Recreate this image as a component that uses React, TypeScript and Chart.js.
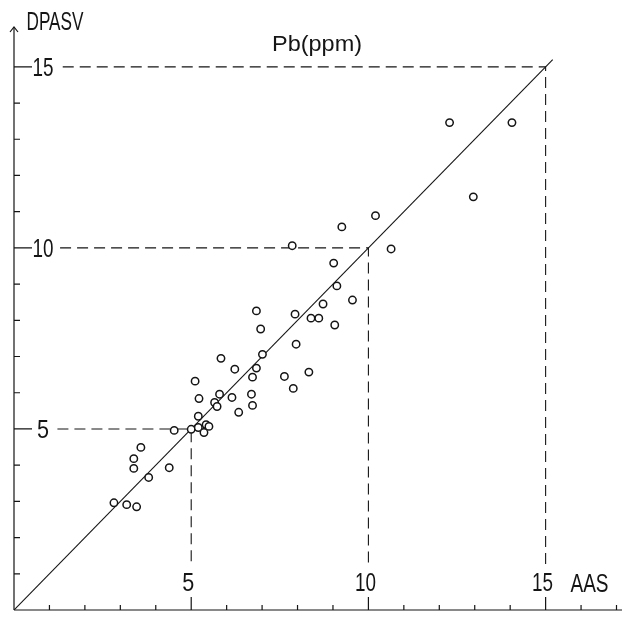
import React, { useEffect, useRef } from "react";
import { Chart, registerables } from "chart.js";

Chart.register(...registerables);

// AAS (x) vs DPASV (y), Pb in ppm
const aasValues = [
  2.82, 3.18, 3.46, 3.38, 3.38, 3.58, 3.8, 4.38, 4.52, 5.0,
  5.2, 5.42, 5.5, 5.36, 5.2, 5.22, 5.11, 5.66, 5.73, 5.8,
  6.15, 6.34, 6.7, 6.73, 5.84, 6.23, 6.73, 6.84, 7.01, 6.84,
  6.96, 7.63, 7.88, 8.32, 7.96, 7.93, 8.38, 8.6, 8.72, 9.11,
  9.05, 9.55, 9.02, 7.85, 9.25, 10.2, 10.64, 12.96, 12.29, 14.05,
];
const dpasvValues = [
  2.96, 2.91, 2.85, 3.91, 4.18, 4.49, 3.66, 3.93, 4.96, 4.99,
  5.04, 5.12, 5.07, 4.9, 5.35, 5.84, 6.32, 5.73, 5.62, 5.96,
  5.87, 5.46, 5.96, 5.65, 6.95, 6.65, 6.43, 6.68, 7.06, 8.26,
  7.76, 6.45, 6.12, 6.57, 7.34, 8.17, 8.06, 8.06, 8.45, 8.95,
  7.87, 8.56, 9.58, 10.06, 10.58, 10.89, 9.97, 11.41, 13.46, 13.46,
];
const guideLevels = [5, 10, 15];
const guideLabels = ["5", "10", "15"];
const xTickValues = [1, 2, 3, 4, 5, 6, 7, 8, 9, 10, 11, 12, 13, 14, 15, 16, 17];
const yTickValues = [1, 2, 3, 4, 5, 6, 7, 8, 9, 10, 11, 12, 13, 14, 15];
const identityLine = [0, 15.2];
const xAxisTitle = "AAS";
const yAxisTitle = "DPASV";
const chartTitle = "Pb(ppm)";

const INK = "#151515";
const FONT = '"Liberation Sans", Arial, sans-serif';
const GUIDE_GAP = 1.25;

function drawText(
  ctx: CanvasRenderingContext2D,
  text: string,
  cx: number,
  baseline: number,
  size: number,
  width: number
) {
  ctx.save();
  ctx.font = `${size}px ${FONT}`;
  const w = ctx.measureText(text).width;
  ctx.translate(cx, baseline);
  ctx.scale(width / w, 1);
  ctx.textAlign = "center";
  ctx.textBaseline = "alphabetic";
  ctx.fillStyle = INK;
  ctx.fillText(text, 0, 0);
  ctx.restore();
}

const axesPlugin = {
  id: "handDrawnAxes",
  afterDatasetsDraw(chart: any) {
    const { ctx, chartArea, scales } = chart;
    const xs = scales.x;
    const ys = scales.y;
    const x0 = xs.getPixelForValue(0);
    const y0 = ys.getPixelForValue(0);
    ctx.save();
    ctx.strokeStyle = INK;
    ctx.lineWidth = 1.2;
    ctx.setLineDash([]);
    // axes
    ctx.beginPath();
    ctx.moveTo(x0, y0);
    ctx.lineTo(chart.width, y0);
    ctx.moveTo(x0, y0);
    ctx.lineTo(x0, chartArea.top);
    ctx.stroke();
    // arrow head
    ctx.beginPath();
    ctx.moveTo(x0 - 4, chartArea.top + 5);
    ctx.lineTo(x0, chartArea.top);
    ctx.lineTo(x0 + 4, chartArea.top + 5);
    ctx.stroke();
    // minor ticks
    ctx.beginPath();
    xTickValues.forEach((v) => {
      const px = xs.getPixelForValue(v);
      ctx.moveTo(px, y0);
      ctx.lineTo(px, y0 - 5);
    });
    yTickValues.forEach((v) => {
      const py = ys.getPixelForValue(v);
      ctx.moveTo(x0, py);
      ctx.lineTo(x0 + 6, py);
    });
    // label ticks for the guide levels
    guideLevels.forEach((L) => {
      const py = ys.getPixelForValue(L);
      ctx.moveTo(x0, py);
      ctx.lineTo(x0 + 18, py);
      const px = xs.getPixelForValue(L);
      ctx.moveTo(px, y0);
      ctx.lineTo(px, y0 - 13);
    });
    ctx.stroke();
    ctx.restore();

    // labels
    guideLevels.forEach((L, i) => {
      const t = guideLabels[i];
      const w = t.length === 1 ? 12 : 21;
      drawText(ctx, t, x0 + 29, ys.getPixelForValue(L) + 9, 25, w);
      drawText(ctx, t, xs.getPixelForValue(L) - 3, y0 - 19, 25, w);
    });
    drawText(ctx, xAxisTitle, chartArea.right - 27, y0 - 18, 25, 38);
    drawText(ctx, yAxisTitle, 55, 30, 25, 57);
    drawText(ctx, chartTitle, 317, 51, 21.5, 90);
  },
};

export default function App() {
  const canvasRef = useRef<HTMLCanvasElement | null>(null);

  useEffect(() => {
    const canvas = canvasRef.current;
    if (!canvas) return;
    const points = aasValues.map((x, i) => ({ x, y: dpasvValues[i] }));
    const guideSets = guideLevels.map((L) => ({
      type: "line" as const,
      data: [
        { x: GUIDE_GAP - 0.1 + L * 0.015, y: L },
        { x: L, y: L },
        { x: L, y: GUIDE_GAP },
      ],
      borderColor: INK,
      borderWidth: 1.1,
      borderDash: [11, 6],
      pointRadius: 0,
      showLine: true,
      fill: false,
      tension: 0,
      order: 2,
    }));
    const chart = new Chart(canvas, {
      type: "scatter",
      data: {
        datasets: [
          {
            data: points,
            pointStyle: "circle",
            pointRadius: 3.7,
            pointBorderWidth: 1.5,
            pointBorderColor: INK,
            pointBackgroundColor: "#ffffff",
            showLine: false,
            order: 0,
          } as any,
          {
            type: "line",
            data: identityLine.map((v) => ({ x: v, y: v })),
            borderColor: INK,
            borderWidth: 1.1,
            pointRadius: 0,
            showLine: true,
            fill: false,
            order: 1,
          } as any,
          ...(guideSets as any[]),
        ],
      },
      options: {
        responsive: false,
        animation: false,
        maintainAspectRatio: false,
        layout: { padding: { left: 14, top: 27, right: 0, bottom: 7 } },
        plugins: {
          legend: { display: false },
          tooltip: { enabled: false },
        },
        scales: {
          x: { type: "linear", min: 0, max: 17, display: false },
          y: { type: "linear", min: 0, max: 16.1, display: false },
        },
      },
      plugins: [axesPlugin],
    });
    return () => chart.destroy();
  }, []);

  return (
    <div
      style={{
        position: "fixed",
        left: 0,
        top: 0,
        width: 622,
        height: 617,
        background: "#ffffff",
      }}
    >
      <canvas ref={canvasRef} width={622} height={617} style={{ display: "block" }} />
    </div>
  );
}
